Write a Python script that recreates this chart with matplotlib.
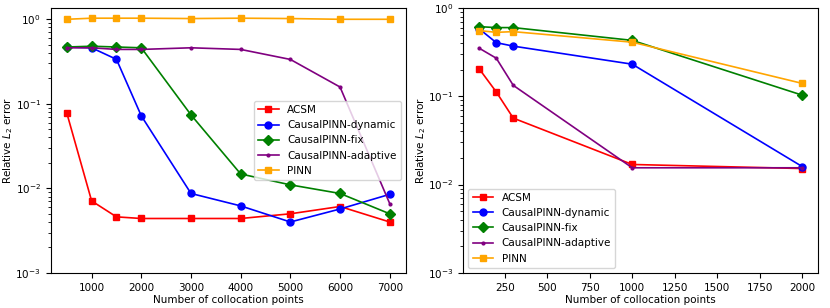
import matplotlib
matplotlib.use("Agg")
import matplotlib.pyplot as plt

plt.rcParams["font.size"] = 7.5
plt.rcParams["lines.linewidth"] = 1.2

# left panel
n_left = [500, 1000, 1500, 2000, 3000, 4000, 5000, 6000, 7000]
acsm_left = [0.078, 0.0071, 0.0046, 0.0044, 0.0044, 0.0044, 0.0050, 0.0061, 0.0040]
dyn_left = [0.47, 0.46, 0.336, 0.072, 0.0087, 0.0062, 0.0040, 0.0057, 0.0085]
fix_left = [0.47, 0.48, 0.47, 0.46, 0.074, 0.0148, 0.011, 0.0087, 0.0050]
adap_left = [0.46, 0.46, 0.44, 0.44, 0.46, 0.44, 0.335, 0.158, 0.0066]
pinn_left = [1.0, 1.03, 1.03, 1.03, 1.02, 1.03, 1.02, 1.0, 1.0]

# right panel
n_right = [100, 200, 300, 1000, 2000]
acsm_right = [0.204, 0.112, 0.0566, 0.0169, 0.0152]
dyn_right = [0.58, 0.405, 0.37, 0.231, 0.016]
fix_right = [0.615, 0.60, 0.60, 0.43, 0.103]
adap_right = [0.35, 0.27, 0.133, 0.0155, 0.0155]
pinn_right = [0.555, 0.53, 0.54, 0.41, 0.14]

labels = ["ACSM", "CausalPINN-dynamic", "CausalPINN-fix", "CausalPINN-adaptive", "PINN"]
styles = [("red", "s"), ("blue", "o"), ("green", "D"), ("purple", "."), ("orange", "s")]


def panel(ax, x, series):
    for y, lab, (c, m) in zip(series, labels, styles):
        ax.plot(x, y, marker=m, color=c, label=lab, markersize=5 if m != "." else 4)
    ax.set_yscale("log")
    ax.set_xlabel("Number of collocation points", labelpad=2)
    ax.set_ylabel("Relative $L_2$ error", labelpad=0)


fig = plt.figure(figsize=(8.3, 3.08), dpi=100)
ax1 = fig.add_axes([0.061, 0.114, 0.428, 0.86])
ax2 = fig.add_axes([0.558, 0.114, 0.428, 0.86])

panel(ax1, n_left, [acsm_left, dyn_left, fix_left, adap_left, pinn_left])
ax1.set_ylim(bottom=1e-3)
ax1.legend(loc="center right")

panel(ax2, n_right, [acsm_right, dyn_right, fix_right, adap_right, pinn_right])
ax2.set_ylim(1e-3, 1)
ax2.legend(loc="lower left")

fig.savefig("out.png", dpi=100)
